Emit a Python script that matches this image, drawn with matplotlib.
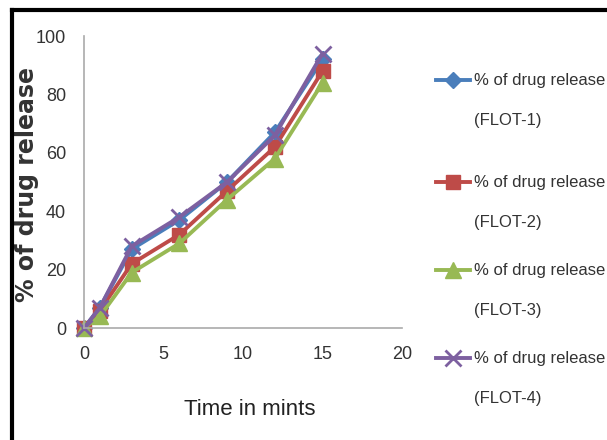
import matplotlib.pyplot as plt
from matplotlib.lines import Line2D

# time points (minutes) and % drug release for each formulation
time_min = [0, 1, 3, 6, 9, 12, 15]
flot1 = [0, 7, 27, 37, 50, 67, 92]
flot2 = [0, 6, 22, 32, 47, 62, 88]
flot3 = [0, 4, 19, 29, 44, 58, 84]
flot4 = [0, 7, 28, 38, 50, 66, 94]

names = ['(FLOT-1)', '(FLOT-2)', '(FLOT-3)', '(FLOT-4)']
colors = ['#4A7EBB', '#BE4B48', '#98B954', '#7D60A0']
markers = ['D', 's', '^', 'x']
msizes = [8, 10, 11, 12]

txtfont = ['Liberation Sans', 'DejaVu Sans']

fig = plt.figure(figsize=(6.07, 4.4), dpi=100)
fig.set_facecolor('white')
ax = fig.add_axes([0.1384, 0.2545, 0.5239, 0.6636])

for ys, c, m, ms in zip([flot1, flot2, flot3, flot4], colors, markers, msizes):
    ax.plot(time_min, ys, color=c, lw=2.8, marker=m, ms=ms,
            mew=2 if m == 'x' else 1, mec=c, mfc=c, clip_on=False)

ax.set_xlim(0, 20)
ax.set_ylim(0, 100)
ax.set_xticks([0, 5, 10, 15, 20])
ax.set_yticks([0, 20, 40, 60, 80, 100])
for s in ['top', 'right']:
    ax.spines[s].set_visible(False)
for s in ['left', 'bottom']:
    ax.spines[s].set_color('#AAAAAA')
    ax.spines[s].set_linewidth(1.2)
ax.tick_params(length=0, pad=13, labelsize=13, labelcolor='#333333')
for lab in ax.get_xticklabels() + ax.get_yticklabels():
    lab.set_family(txtfont)

ax.set_ylabel('% of drug release', fontsize=17, fontweight='bold',
              color='#333333', va='center')
ax.yaxis.set_label_coords(-0.18, 0.49)
ax.set_xlabel('Time in mints', fontsize=16, family=txtfont,
              color='#222222', va='center')
ax.xaxis.set_label_coords(0.52, -0.28)

# manual legend: handle next to first line of each two-line label
W, H = 607, 440
tops = [80, 182, 270, 358]
for y, c, m, ms, nm in zip(tops, colors, markers, msizes, names):
    fy = 1 - y / H
    fig.add_artist(Line2D([436 / W, 470 / W], [fy, fy], color=c, lw=2.8))
    fig.add_artist(Line2D([453 / W], [fy], color=c, marker=m, ms=ms,
                          mew=2 if m == 'x' else 1, mfc=c, mec=c))
    fig.text(474 / W, fy, '% of drug release', family=txtfont, fontsize=12,
             color='#333333', va='center', ha='left')
    fig.text(474 / W, 1 - (y + 40) / H, nm, family=txtfont, fontsize=12,
             color='#333333', va='center', ha='left')

# black frame lines at top and left
fig.add_artist(Line2D([12 / W, 1], [1 - 10 / H, 1 - 10 / H], color='black', lw=3))
fig.add_artist(Line2D([12 / W, 12 / W], [0, 1 - 10 / H], color='black', lw=3))

fig.savefig('out.png', dpi=100)
